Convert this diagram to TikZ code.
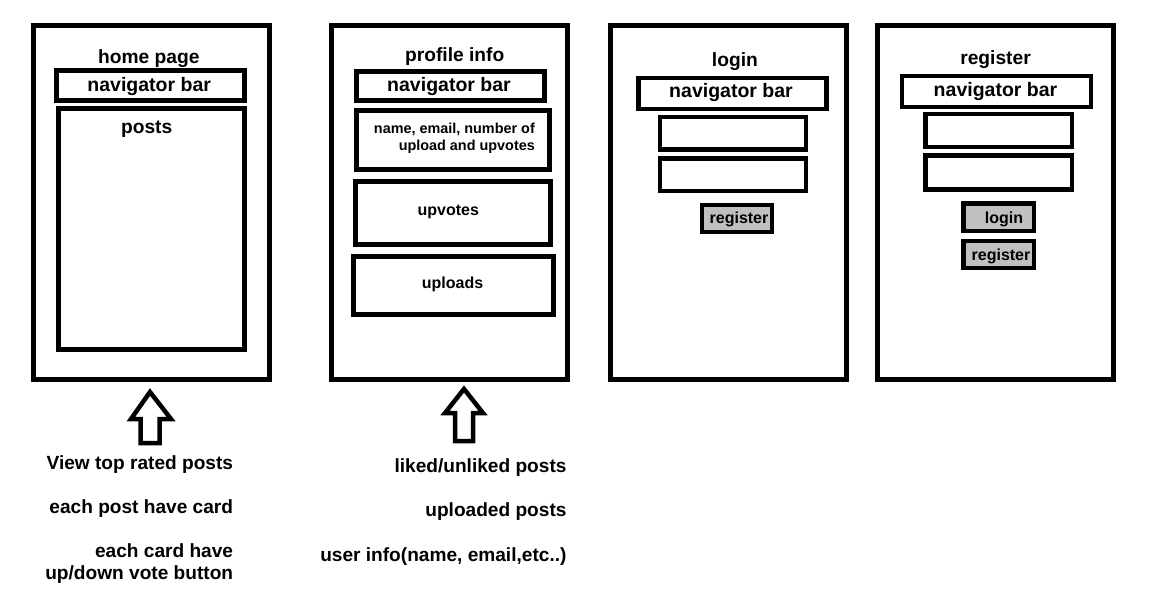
\documentclass[tikz,border=0pt]{standalone}
\usepackage{fontspec}
\setmainfont{Liberation Sans}
\begin{document}
\begin{tikzpicture}[x=1pt,y=-1pt,
  panel/.style={draw, line width=5pt, inner sep=0pt},
  frame/.style={draw, line width=4.5pt, inner sep=0pt},
  button/.style={draw, fill=btngray, line width=4.5pt, inner sep=0pt},
  title/.style={font=\fontsize{19.2}{22}\selectfont\bfseries, inner sep=0pt, anchor=base},
  navtext/.style={font=\fontsize{19.5}{22}\selectfont\bfseries, inner sep=0pt, anchor=base},
  mid/.style={font=\fontsize{16}{18}\selectfont\bfseries, inner sep=0pt, anchor=base},
  small/.style={font=\fontsize{14.4}{17}\selectfont\bfseries, inner sep=0pt, anchor=base east},
  note/.style={font=\fontsize{19.1}{22}\selectfont\bfseries, inner sep=0pt, anchor=base east},
  bigarrow/.style={draw, line width=4.5pt, miter limit=10}]
\definecolor{btngray}{RGB}{192,192,192}
\useasboundingbox (0,0) rectangle (1153,613);

% ---- home page ----
\node[panel, minimum width=235.5pt, minimum height=354pt] (home) at (151.25,202.5) {};
\node[title] (homeT) at (148.8,63) {home page};
\node[frame, minimum width=187.7pt, minimum height=29.6pt] (homeNav) at (150.45,85.5) {};
\node[navtext] (homeNavT) at (149.2,91) {navigator bar};
\node[frame, minimum width=185.9pt, minimum height=241.1pt] (posts) at (151.35,228.95) {};
\node[title] (postsT) at (146.7,133) {posts};

% ---- profile info ----
\node[panel, minimum width=236pt, minimum height=354pt] (profile) at (449.5,202.5) {};
\node[title] (profileT) at (454.7,61.7) {profile info};
\node[frame, minimum width=188.4pt, minimum height=29.4pt] (profNav) at (450.5,86) {};
\node[navtext] (profNavT) at (449,91) {navigator bar};
\node[frame, minimum width=193.4pt, minimum height=59.4pt] (info) at (453,140) {};
\node[small] (infoT1) at (535,133.3) {name, email, number of};
\node[small] (infoT2) at (535,150) {upload and upvotes};
\node[frame, minimum width=195.4pt, minimum height=63.4pt] (upvotes) at (453,213) {};
\node[mid] (upvotesT) at (448.3,215) {upvotes};
\node[frame, minimum width=200.4pt, minimum height=58.4pt] (uploads) at (453.5,285.5) {};
\node[mid] (uploadsT) at (452.5,288.3) {uploads};

% ---- login ----
\node[panel, minimum width=236.5pt, minimum height=354pt] (login) at (728.25,202.5) {};
\node[title] (loginT) at (734.9,66.4) {login};
\node[frame, minimum width=188.2pt, minimum height=31pt] (logNav) at (732.5,93.5) {};
\node[navtext] (logNavT) at (731,97.8) {navigator bar};
\node[frame, minimum width=146pt, minimum height=32.8pt] (logField1) at (733,133.3) {};
\node[frame, minimum width=146pt, minimum height=32.5pt] (logField2) at (733,174.7) {};
\node[button, minimum width=70pt, minimum height=27pt] (logReg) at (737,218.5) {};
\node[mid] (logRegT) at (739,223.5) {register};

% ---- register ----
\node[panel, minimum width=235.7pt, minimum height=354pt] (register) at (995.6,202.5) {};
\node[title] (registerT) at (995.5,64) {register};
\node[frame, minimum width=189pt, minimum height=31pt] (regNav) at (996.5,91.5) {};
\node[navtext] (regNavT) at (995.5,96) {navigator bar};
\node[frame, minimum width=146.5pt, minimum height=33pt] (regField1) at (998.75,130.5) {};
\node[frame, minimum width=146.5pt, minimum height=33.8pt] (regField2) at (998.75,172.5) {};
\node[button, minimum width=70.3pt, minimum height=27.4pt] (regLogin) at (998.85,217.3) {};
\node[mid] (regLoginT) at (1004,223.5) {login};
\node[button, minimum width=70.3pt, minimum height=27pt] (regReg) at (998.85,254.5) {};
\node[mid] (regRegT) at (1001,260) {register};

% ---- hollow up arrows ----
\draw[bigarrow] (150,392) -- (171,419) -- (159.5,419) -- (159.5,443)
  -- (140.5,443) -- (140.5,419) -- (131,419) -- cycle;
\draw[bigarrow] (464,389) -- (483,413) -- (473,413) -- (473,441)
  -- (455,441) -- (455,413) -- (445,413) -- cycle;

% ---- notes ----
\node[note] (n1) at (233.3,469.3) {View top rated posts};
\node[note] (n2) at (233.3,513.3) {each post have card};
\node[note] (n3) at (233.3,557.7) {each card have};
\node[note] (n4) at (233.3,579.3) {up/down vote button};
\node[note] (m1) at (566.7,472.3) {liked/unliked posts};
\node[note] (m2) at (566.7,516.7) {uploaded posts};
\node[note] (m3) at (566.7,561) {user info(name, email,etc..)};
\end{tikzpicture}
\end{document}
